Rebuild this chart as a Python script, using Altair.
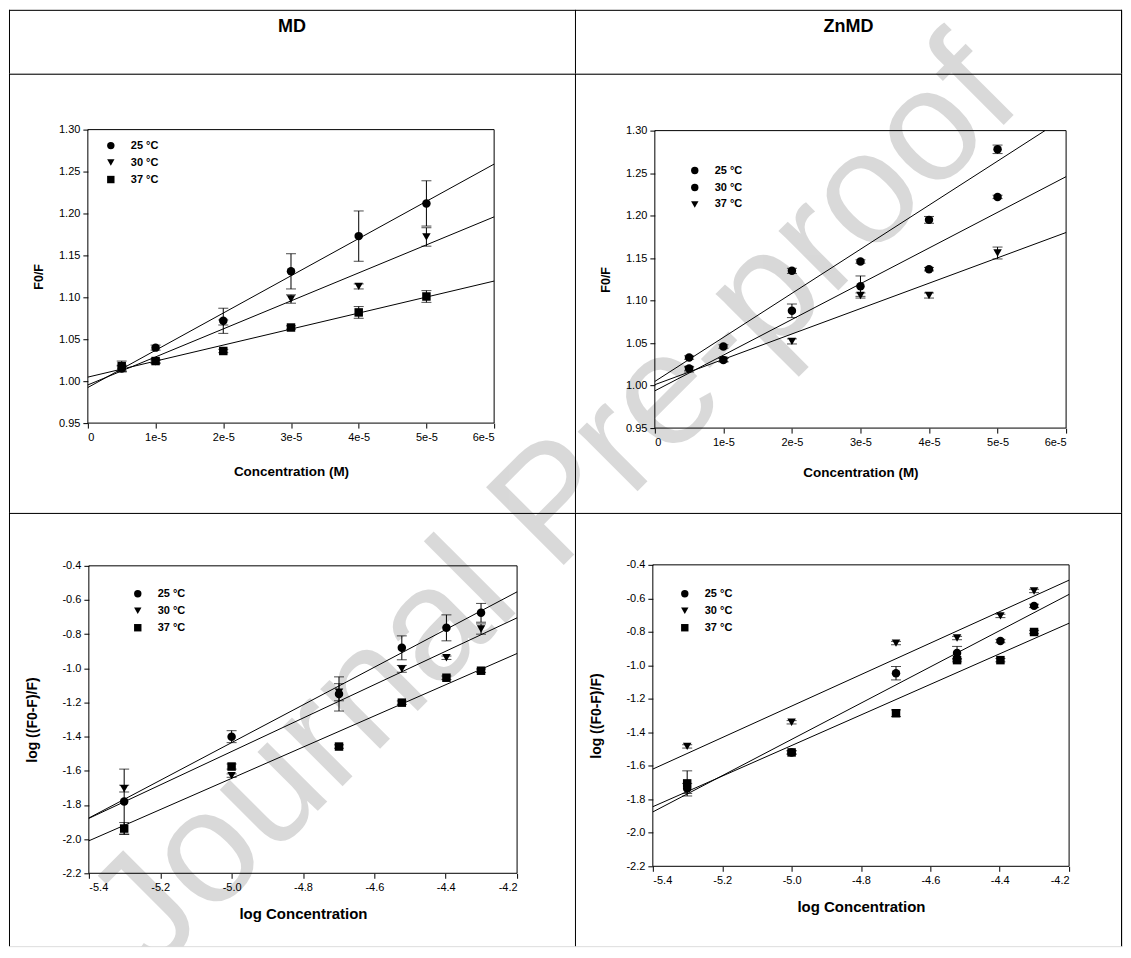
import altair as alt
import pandas as pd

# ---------------- data ----------------
headers = ["MD", "ZnMD"]
series = ["25 °C", "30 °C", "37 °C"]
watermark = ["Journal Pre-proof"]

conc = [5e-6, 1e-5, 2e-5, 3e-5, 4e-5, 5e-5]
log_conc = [-5.301, -5.0, -4.699, -4.523, -4.398, -4.301]

# MD  F0/F
md_f_25 = [1.015, 1.040, 1.072, 1.131, 1.173, 1.212]
md_f_30 = [1.015, 1.023, 1.070, 1.098, 1.113, 1.172]
md_f_37 = [1.018, 1.024, 1.036, 1.064, 1.082, 1.101]
md_f_25_err = [0.004, 0.003, 0.015, 0.021, 0.030, 0.027]
md_f_30_err = [0.003, 0.002, 0.003, 0.005, 0.003, 0.011]
md_f_37_err = [0.006, 0.002, 0.002, 0.002, 0.007, 0.007]

# ZnMD  F0/F
zn_f_25 = [1.033, 1.046, 1.135, 1.146, 1.195, 1.278]
zn_f_30 = [1.020, 1.030, 1.088, 1.117, 1.137, 1.222]
zn_f_37 = [1.019, 1.030, 1.052, 1.106, 1.106, 1.156]
zn_f_25_err = [0.002, 0.002, 0.003, 0.002, 0.004, 0.005]
zn_f_30_err = [0.002, 0.002, 0.008, 0.012, 0.002, 0.002]
zn_f_37_err = [0.003, 0.002, 0.003, 0.003, 0.003, 0.007]

# MD  log((F0-F)/F)
md_l_25 = [-1.780, -1.400, -1.150, -0.880, -0.763, -0.675]
md_l_30 = [-1.704, -1.628, -1.140, -1.003, -0.938, -0.770]
md_l_37 = [-1.938, -1.575, -1.458, -1.201, -1.055, -1.014]
md_l_25_err = [0.190, 0.035, 0.100, 0.070, 0.076, 0.055]
md_l_30_err = [0.020, 0.010, 0.050, 0.020, 0.010, 0.030]
md_l_37_err = [0.035, 0.015, 0.010, 0.010, 0.010, 0.010]

# ZnMD  log((F0-F)/F)
zn_l_25 = [-1.735, -1.520, -1.047, -0.927, -0.855, -0.645]
zn_l_30 = [-1.484, -1.340, -0.867, -0.837, -0.705, -0.556]
zn_l_37 = [-1.705, -1.520, -1.286, -0.969, -0.969, -0.801]
zn_l_25_err = [0.030, 0.010, 0.040, 0.040, 0.010, 0.010]
zn_l_30_err = [0.010, 0.010, 0.010, 0.010, 0.010, 0.010]
zn_l_37_err = [0.075, 0.010, 0.020, 0.010, 0.010, 0.010]

x_ticks_conc = [0, 1e-5, 2e-5, 3e-5, 4e-5, 5e-5, 6e-5]
y_ticks_f = [0.95, 1.00, 1.05, 1.10, 1.15, 1.20, 1.25, 1.30]
x_ticks_log = [-5.4, -5.2, -5.0, -4.8, -4.6, -4.4, -4.2]
y_ticks_log = [-2.2, -2.0, -1.8, -1.6, -1.4, -1.2, -1.0, -0.8, -0.6, -0.4]

# ---------------- layout ----------------
FONT = "Liberation Sans"
COL_W = [567, 548]
ROW_H = [64, 440, 434]
COL_X = [8, 575]
ROW_Y = [8, 72, 512]
WM_X, WM_Y = 555, 505
DUMMY = pd.DataFrame({"k": [0]})


def make_df(xs, ys_list, errs_list):
    rows = []
    for s, ys, es in zip(series, ys_list, errs_list):
        for x, y, e in zip(xs, ys, es):
            rows.append({"series": s, "x": x, "y": y, "lo": y - e, "hi": y + e})
    return pd.DataFrame(rows)


def border_layers(cw, ch, right):
    out = [
        alt.Chart(DUMMY).mark_rule(color="black", strokeWidth=1).encode(
            x=alt.value(0), x2=alt.value(cw), y=alt.value(0.5)),
        alt.Chart(DUMMY).mark_rule(color="black", strokeWidth=1).encode(
            x=alt.value(0.5), y=alt.value(0), y2=alt.value(ch)),
    ]
    if right:
        out.append(alt.Chart(DUMMY).mark_rule(color="black", strokeWidth=1).encode(
            x=alt.value(cw - 0.5), y=alt.value(0), y2=alt.value(ch)))
    return out


def wm_layer(col, row):
    return alt.Chart(pd.DataFrame({"t": watermark})).mark_text(
        angle=315, fontSize=160, font=FONT, color="black", opacity=0.15,
        align="center", baseline="middle", clip=True,
    ).encode(x=alt.value(WM_X - COL_X[col]), y=alt.value(WM_Y - ROW_Y[row]), text="t:N")


def header(col):
    cw, ch = COL_W[col], ROW_H[0]
    t = alt.Chart(pd.DataFrame({"t": [headers[col]]})).mark_text(
        font=FONT, fontSize=18, fontWeight="bold", color="black",
        align="center", baseline="middle",
    ).encode(x=alt.value(cw / 2), y=alt.value(17), text="t:N")
    return alt.layer(t, wm_layer(col, 0), *border_layers(cw, ch, col == 1)).properties(
        width=cw, height=ch)


def panel(col, row, df, shapes, xdom, ydom, xticks, yticks, xfmt, yfmt,
          xtitle, ytitle, box, leg, title_size, xtpad, ytpad):
    cw, ch = COL_W[col], ROW_H[row]
    x0, x1, yt, yb = box
    xs = alt.Scale(domain=xdom, range=[x0, x1], nice=False, zero=False)
    ys = alt.Scale(domain=ydom, range=[yb, yt], nice=False, zero=False)
    xax = alt.Axis(values=xticks, labelExpr=xfmt, title=xtitle, offset=yb - ch,
                   domain=False, grid=False, tickSize=5, tickColor="black",
                   labelFontSize=11, labelFont=FONT, labelColor="black",
                   titleFont=FONT, titleFontSize=title_size, titleFontWeight="bold",
                   titleColor="black", titlePadding=xtpad, labelPadding=3)
    yax = alt.Axis(values=yticks, labelExpr=yfmt, title=ytitle, offset=-x0,
                   domain=False, grid=False, tickSize=5, tickColor="black",
                   labelFontSize=11, labelFont=FONT, labelColor="black",
                   titleFont=FONT, titleFontSize=title_size - 1, titleFontWeight="bold",
                   titleColor="black", titlePadding=ytpad, labelPadding=3)

    def X(f):
        return alt.X(f, type="quantitative", scale=xs, axis=xax)

    def Y(f):
        return alt.Y(f, type="quantitative", scale=ys, axis=yax)

    base = alt.Chart(df)
    frame = alt.Chart(DUMMY).mark_rect(fillOpacity=0, stroke="black", strokeWidth=1).encode(
        x=alt.X(datum=xdom[0], type="quantitative", scale=xs, axis=xax),
        x2=alt.X2(datum=xdom[1]),
        y=alt.Y(datum=ydom[0], type="quantitative", scale=ys, axis=yax),
        y2=alt.Y2(datum=ydom[1]),
    )
    fit = (
        base.transform_regression("x", "y", groupby=["series"], params=True)
        .transform_calculate(a="datum.coef[0]")
        .transform_calculate(b="datum.coef[1]")
        .transform_calculate(xa=f"max({xdom[0]}, ({ydom[0]} - datum.a) / datum.b)")
        .transform_calculate(xb=f"min({xdom[1]}, ({ydom[1]} - datum.a) / datum.b)")
        .transform_calculate(ya="datum.a + datum.b * datum.xa")
        .transform_calculate(yb="datum.a + datum.b * datum.xb")
        .mark_rule(color="black", strokeWidth=1)
        .encode(x=X("xa"), x2="xb:Q", y=Y("ya"), y2="yb:Q")
    )
    bars = base.mark_rule(color="black", strokeWidth=1).encode(x=X("x"), y=Y("lo"), y2="hi:Q")
    cap_lo = base.mark_tick(orient="horizontal", size=10, thickness=1, color="black").encode(
        x=X("x"), y=Y("lo"))
    cap_hi = base.mark_tick(orient="horizontal", size=10, thickness=1, color="black").encode(
        x=X("x"), y=Y("hi"))
    pts = base.mark_point(filled=True, size=72, opacity=1, color="black").encode(
        x=X("x"), y=Y("y"),
        shape=alt.Shape("series:N", scale=alt.Scale(domain=series, range=shapes),
                        legend=alt.Legend(orient="none", legendX=leg[0] - 3.5,
                                          legendY=leg[1] - 5.5, title=None, padding=0,
                                          labelFont=FONT, labelFontSize=11,
                                          labelFontWeight="bold", labelColor="black",
                                          symbolSize=55, symbolFillColor="black",
                                          symbolStrokeColor="black", symbolStrokeWidth=0,
                                          rowPadding=5, labelOffset=14.5)),
    )
    return alt.layer(frame, fit, bars, cap_lo, cap_hi, pts, wm_layer(col, row),
                     *border_layers(cw, ch, col == 1)).properties(width=cw, height=ch)


FMT_CONC = "datum.value == 0 ? '0' : format(datum.value, '.0e')"
FMT_F = "format(datum.value, '.2f')"
FMT_LOG = "replace(format(datum.value, '.1f'), '\u2212', '-')"

tl = panel(0, 1, make_df(conc, [md_f_25, md_f_30, md_f_37], [md_f_25_err, md_f_30_err, md_f_37_err]),
           ["circle", "triangle-down", "square"], [0, 6e-5], [0.95, 1.30], x_ticks_conc, y_ticks_f,
           FMT_CONC, FMT_F, "Concentration (M)", "F0/F", (79, 486, 56, 350), (100, 72), 13.5, 22, 13)
tr = panel(1, 1, make_df(conc, [zn_f_25, zn_f_30, zn_f_37], [zn_f_25_err, zn_f_30_err, zn_f_37_err]),
           ["circle", "circle", "triangle-down"], [0, 6e-5], [0.95, 1.30], x_ticks_conc, y_ticks_f,
           FMT_CONC, FMT_F, "Concentration (M)", "F0/F", (80, 492, 57, 355), (118, 97), 13.5, 18, 13)
bl = panel(0, 2, make_df(log_conc, [md_l_25, md_l_30, md_l_37], [md_l_25_err, md_l_30_err, md_l_37_err]),
           ["circle", "triangle-down", "square"], [-5.4, -4.2], [-2.2, -0.4], x_ticks_log, y_ticks_log,
           FMT_LOG, FMT_LOG, "log Concentration", "log ((F0-F)/F)", (80, 509, 53, 361), (127, 81), 15, 14, 22)
br = panel(1, 2, make_df(log_conc, [zn_l_25, zn_l_30, zn_l_37], [zn_l_25_err, zn_l_30_err, zn_l_37_err]),
           ["circle", "triangle-down", "square"], [-5.4, -4.2], [-2.2, -0.4], x_ticks_log, y_ticks_log,
           FMT_LOG, FMT_LOG, "log Concentration", "log ((F0-F)/F)", (78, 495, 52, 354), (108, 81), 15, 14, 22)

chart = (
    alt.concat(header(0), header(1), tl, tr, bl, br,
               columns=2, spacing=0, bounds="flush", align="each")
    .resolve_scale(shape="independent")
    .resolve_legend(shape="independent")
    .properties(padding=0)
    .configure_view(stroke="transparent")
    .configure(background="white")
)

chart.save("out.html", embed_options={"renderer": "svg", "actions": False})
